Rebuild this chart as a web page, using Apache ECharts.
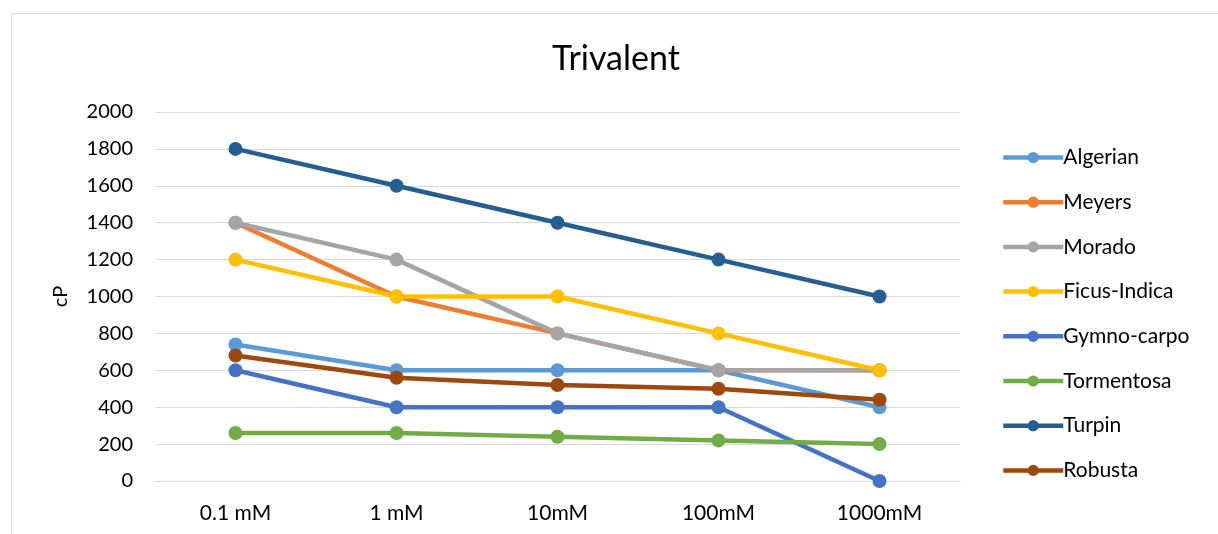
<!DOCTYPE html>
<html>
<head>
<meta charset="utf-8">
<script src="https://cdn.jsdelivr.net/npm/echarts@6/dist/echarts.min.js"></script>
<style>
  html, body { margin: 0; padding: 0; background: #fff; }
  #chart { width: 1218px; height: 534px; }
</style>
</head>
<body>
<div id="chart"></div>
<script>
// Concentrations on the category axis
const categories = ['0.1 mM', '1 mM', '10mM', '100mM', '1000mM'];

// Viscosity (cP) per sample
const algerian    = [740, 600, 600, 600, 400];
const meyers      = [1400, 1000, 800, 600, 600];
const morado      = [1400, 1200, 800, 600, 600];
const ficusIndica = [1200, 1000, 1000, 800, 600];
const gymnoCarpo  = [600, 400, 400, 400, 0];
const tormentosa  = [260, 260, 240, 220, 200];
const turpin      = [1800, 1600, 1400, 1200, 1000];
const robusta     = [680, 560, 520, 500, 440];

const seriesNames = ['Algerian', 'Meyers', 'Morado', 'Ficus-Indica', 'Gymno-carpo', 'Tormentosa', 'Turpin', 'Robusta'];
const seriesData = [algerian, meyers, morado, ficusIndica, gymnoCarpo, tormentosa, turpin, robusta];
const seriesColors = ['#5B9BD5', '#ED7D31', '#A5A5A5', '#FFC000', '#4472C4', '#70AD47', '#255E91', '#9E480E'];

const FONT = 'Lato, "Open Sans", sans-serif';

const chart = echarts.init(document.getElementById('chart'), null, { renderer: 'canvas' });

chart.setOption({
  animation: false,
  backgroundColor: '#ffffff',
  title: {
    text: 'Trivalent',
    left: 611,
    textAlign: 'center',
    top: 37,
    textStyle: { fontFamily: FONT, fontSize: 34, fontWeight: 'normal', color: '#000' }
  },
  graphic: [{
    type: 'rect',
    shape: { x: 11.5, y: 13.5, width: 1220, height: 540 },
    style: { fill: 'none', stroke: '#D9D9D9', lineWidth: 1 },
    silent: true
  }],
  legend: {
    orient: 'vertical',
    left: 996,
    top: 142,
    itemWidth: 60,
    itemHeight: 14,
    itemGap: 23.7,
    lineStyle: { width: 4.5 },
    textStyle: { fontFamily: FONT, fontSize: 21, color: '#000', padding: [0, 0, 0, -5], lineHeight: 20 },
    data: seriesNames
  },
  grid: { left: 155, right: 258, top: 112, bottom: 53 },
  xAxis: {
    type: 'category',
    data: categories,
    boundaryGap: true,
    axisLine: { lineStyle: { color: '#D9D9D9', width: 1 } },
    axisTick: { show: false },
    axisLabel: { fontFamily: FONT, fontSize: 21, color: '#000', margin: 22 }
  },
  yAxis: {
    type: 'value',
    min: 0,
    max: 2000,
    interval: 200,
    name: 'cP',
    nameLocation: 'middle',
    nameGap: 84,
    nameRotate: 90,
    nameTextStyle: { fontFamily: FONT, fontSize: 20, color: '#000' },
    axisLine: { show: false },
    axisTick: { show: false },
    axisLabel: { fontFamily: FONT, fontSize: 20, color: '#000', margin: 22, formatter: v => String(v) },
    splitLine: { lineStyle: { color: '#D9D9D9', width: 1 } }
  },
  series: seriesNames.map((name, i) => ({
    name,
    type: 'line',
    data: seriesData[i],
    symbol: 'circle',
    symbolSize: 14,
    color: seriesColors[i],
    lineStyle: { width: 4.5, color: seriesColors[i] },
    itemStyle: { color: seriesColors[i] }
  }))
});
</script>
</body>
</html>
